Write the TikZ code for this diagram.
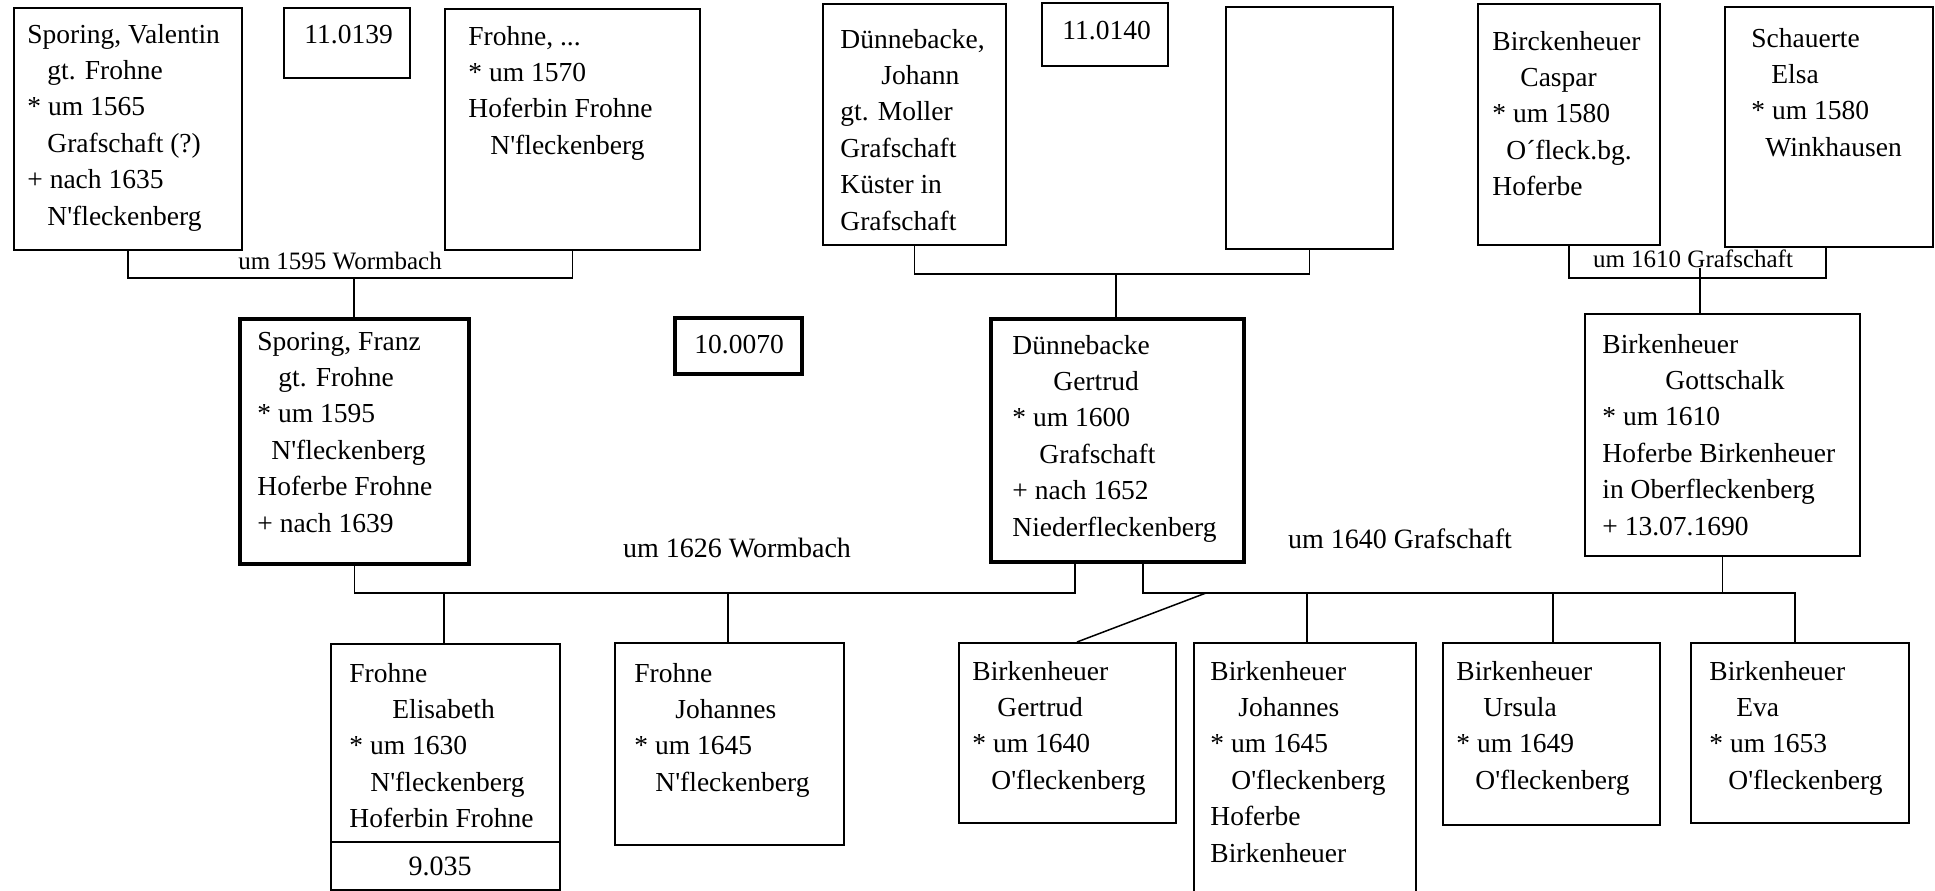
\documentclass[tikz,border=0pt]{standalone}
\usepackage{fontspec}
\setmainfont{Liberation Serif}
\newcommand{\ap}{\textquotesingle}
\newcommand{\zline}[1]{\hbox{#1}}
\newcommand{\zlines}[1]{\vtop{\baselineskip=18.2pt\lineskiplimit=-10pt #1}}
\begin{document}
\begin{tikzpicture}[x=0.5pt,y=-0.5pt,
  box/.style={draw, line width=0.75pt, inner sep=0pt, anchor=north west},
  thickbox/.style={box, line width=1.75pt},
  txt/.style={anchor=base west, inner sep=0pt, font=\fontsize{13.75pt}{18.2pt}\selectfont},
  lblsmall/.style={anchor=base, inner sep=0pt, font=\fontsize{12.5pt}{15pt}\selectfont},
  lblbig/.style={anchor=base, inner sep=0pt, font=\fontsize{14pt}{17pt}\selectfont},
  link/.style={line width=0.75pt}]
\useasboundingbox (0,0) rectangle (1935,890);
\fill[white] (0,0) rectangle (1935,890);
\clip (0,0) rectangle (1935,890);

% ---------- top row ----------
\node[box, minimum width=114pt, minimum height=121pt] (v) at (13,7) {};
\node[txt] (vt) at (27,43) {\zlines{\zline{Sporing, Valentin}\zline{\hspace*{10pt}gt. Frohne}\zline{* um 1565}\zline{\hspace*{10pt}Grafschaft (?)}\zline{+ nach 1635}\zline{\hspace*{10pt}N\ap fleckenberg}}};

\node[box, minimum width=63pt, minimum height=35pt] (n11) at (283,7) {};
\node[txt] (n11t) at (304,43) {11.0139};

\node[box, minimum width=127.5pt, minimum height=120.5pt] (f) at (444,8) {};
\node[txt] (ft) at (468,45) {\zlines{\zline{Frohne, ...}\zline{* um 1570}\zline{Hoferbin Frohne}\zline{\hspace*{11pt}N\ap fleckenberg}}};

\node[box, minimum width=91.5pt, minimum height=120.5pt] (dj) at (822,3) {};
\node[txt] (djt) at (840,48) {\zlines{\zline{Dünnebacke,}\zline{\hspace*{20.5pt}Johann}\zline{gt. Moller}\zline{Grafschaft}\zline{Küster in}\zline{Grafschaft}}};

\node[box, minimum width=63pt, minimum height=31.5pt] (n12) at (1041,2) {};
\node[txt] (n12t) at (1062,39) {11.0140};

\node[box, minimum width=83.5pt, minimum height=121pt] (e) at (1225,6) {};

\node[box, minimum width=91pt, minimum height=120.5pt] (c) at (1477,3) {};
\node[txt] (ct) at (1492,50) {\zlines{\zline{Birckenheuer}\zline{\hspace*{14pt}Caspar}\zline{* um 1580}\zline{\hspace*{7pt}O´fleck.bg.}\zline{Hoferbe}}};

\node[box, minimum width=104pt, minimum height=120pt] (s) at (1724,6) {};
\node[txt] (st) at (1751,47) {\zlines{\zline{Schauerte}\zline{\hspace*{10pt}Elsa}\zline{* um 1580}\zline{\hspace*{7pt}Winkhausen}}};

% ---------- middle row ----------
\node[thickbox, minimum width=114.5pt, minimum height=122.5pt] (fr) at (238,317) {};
\node[txt] (frt) at (257,350) {\zlines{\zline{Sporing, Franz}\zline{\hspace*{10.5pt}gt. Frohne}\zline{* um 1595}\zline{\hspace*{7pt}N\ap fleckenberg}\zline{Hoferbe Frohne}\zline{+ nach 1639}}};

\node[thickbox, minimum width=63.5pt, minimum height=28pt] (n10) at (673,316) {};
\node[txt] (n10t) at (694,353) {10.0070};

\node[thickbox, minimum width=126.5pt, minimum height=121.5pt] (g) at (989,317) {};
\node[txt] (gt) at (1012,354) {\zlines{\zline{Dünnebacke}\zline{\hspace*{20.5pt}Gertrud}\zline{* um 1600}\zline{\hspace*{13.5pt}Grafschaft}\zline{+ nach 1652}\zline{Niederfleckenberg}}};

\node[box, minimum width=137.5pt, minimum height=121pt] (go) at (1584,313) {};
\node[txt] (got) at (1602,353) {\zlines{\zline{Birkenheuer}\zline{\hspace*{31.5pt}Gottschalk}\zline{* um 1610}\zline{Hoferbe Birkenheuer}\zline{in Oberfleckenberg}\zline{+ 13.07.1690}}};

% ---------- bottom row ----------
\node[box, minimum width=114.5pt, minimum height=123pt] (el) at (330,643) {};
\node[txt] (elt) at (349,682) {\zlines{\zline{Frohne}\zline{\hspace*{21.5pt}Elisabeth}\zline{* um 1630}\zline{\hspace*{10.5pt}N\ap fleckenberg}\zline{Hoferbin Frohne}}};
\coordinate (eld) at (0,842);
\draw[link] (el.west |- eld) -- (el.east |- eld);
\node[lblbig] (eln) at (440,875) {9.035};

\node[box, minimum width=114.5pt, minimum height=101pt] (fj) at (614,642) {};
\node[txt] (fjt) at (634,682) {\zlines{\zline{Frohne}\zline{\hspace*{20.5pt}Johannes}\zline{* um 1645}\zline{\hspace*{10.5pt}N\ap fleckenberg}}};

\node[box, minimum width=108.5pt, minimum height=90pt] (bg) at (958,642) {};
\node[txt] (bgt) at (972,680) {\zlines{\zline{Birkenheuer}\zline{\hspace*{12.5pt}Gertrud}\zline{* um 1640}\zline{\hspace*{9.5pt}O\ap fleckenberg}}};

\node[box, minimum width=111pt, minimum height=130pt] (bj) at (1193,642) {};
\node[txt] (bjt) at (1210,680) {\zlines{\zline{Birkenheuer}\zline{\hspace*{14pt}Johannes}\zline{* um 1645}\zline{\hspace*{10.5pt}O\ap fleckenberg}\zline{Hoferbe}\zline{Birkenheuer}}};

\node[box, minimum width=108.5pt, minimum height=91pt] (bu) at (1442,642) {};
\node[txt] (but) at (1456,680) {\zlines{\zline{Birkenheuer}\zline{\hspace*{13.5pt}Ursula}\zline{* um 1649}\zline{\hspace*{9.5pt}O\ap fleckenberg}}};

\node[box, minimum width=109pt, minimum height=90pt] (be) at (1690,642) {};
\node[txt] (bet) at (1709,680) {\zlines{\zline{Birkenheuer}\zline{\hspace*{13.5pt}Eva}\zline{* um 1653}\zline{\hspace*{9.5pt}O\ap fleckenberg}}};

% ---------- labels ----------
\node[lblsmall] (l1) at (340,269) {um 1595 Wormbach};
\node[lblsmall] (l2) at (1693,267) {um 1610 Grafschaft};
\node[lblbig] (l3) at (737,557) {um 1626 Wormbach};
\node[lblbig] (l4) at (1400,548) {um 1640 Grafschaft};

% ---------- connectors ----------
\coordinate (m1) at (354,278);
\draw[link] (v.south) |- (m1) -| (f.south);
\draw[link] (m1) -- (m1 |- fr.north);

\coordinate (m2) at (1116,274);
\draw[link] (dj.south) |- (m2) -| (e.south);
\draw[link] (m2) -- (m2 |- g.north);

\coordinate (m3l) at (1569,278);
\coordinate (m3r) at (1826,278);
\coordinate (m3) at (1700,278);
\draw[link] (c.south -| m3l) -- (m3l) -- (m3r) -- (s.south -| m3r);
\draw[link] (m3 |- l2.south) -- (m3 |- go.north);

\coordinate (wr) at (1075,593);
\draw[link] (fr.south) |- (wr) -- (wr |- g.south);
\coordinate (k1) at (444,593);
\coordinate (k2) at (728,593);
\draw[link] (k1) -- (k1 |- el.north);
\draw[link] (k2) -- (k2 |- fj.north);

\coordinate (gl) at (1143,593);
\coordinate (gr) at (1795,593);
\draw[link] (g.south -| gl) -- (gl) -- (gr) -- (gr |- be.north);
\draw[link] (go.south) -- (go.south |- gr);
\coordinate (d1) at (1206,593);
\coordinate (d2) at (1077,642);
\draw[link] (d1) -- (d2 |- bg.north);
\coordinate (k3) at (1307,593);
\coordinate (k4) at (1553,593);
\draw[link] (k3) -- (k3 |- bj.north);
\draw[link] (k4) -- (k4 |- bu.north);
\end{tikzpicture}
\end{document}
